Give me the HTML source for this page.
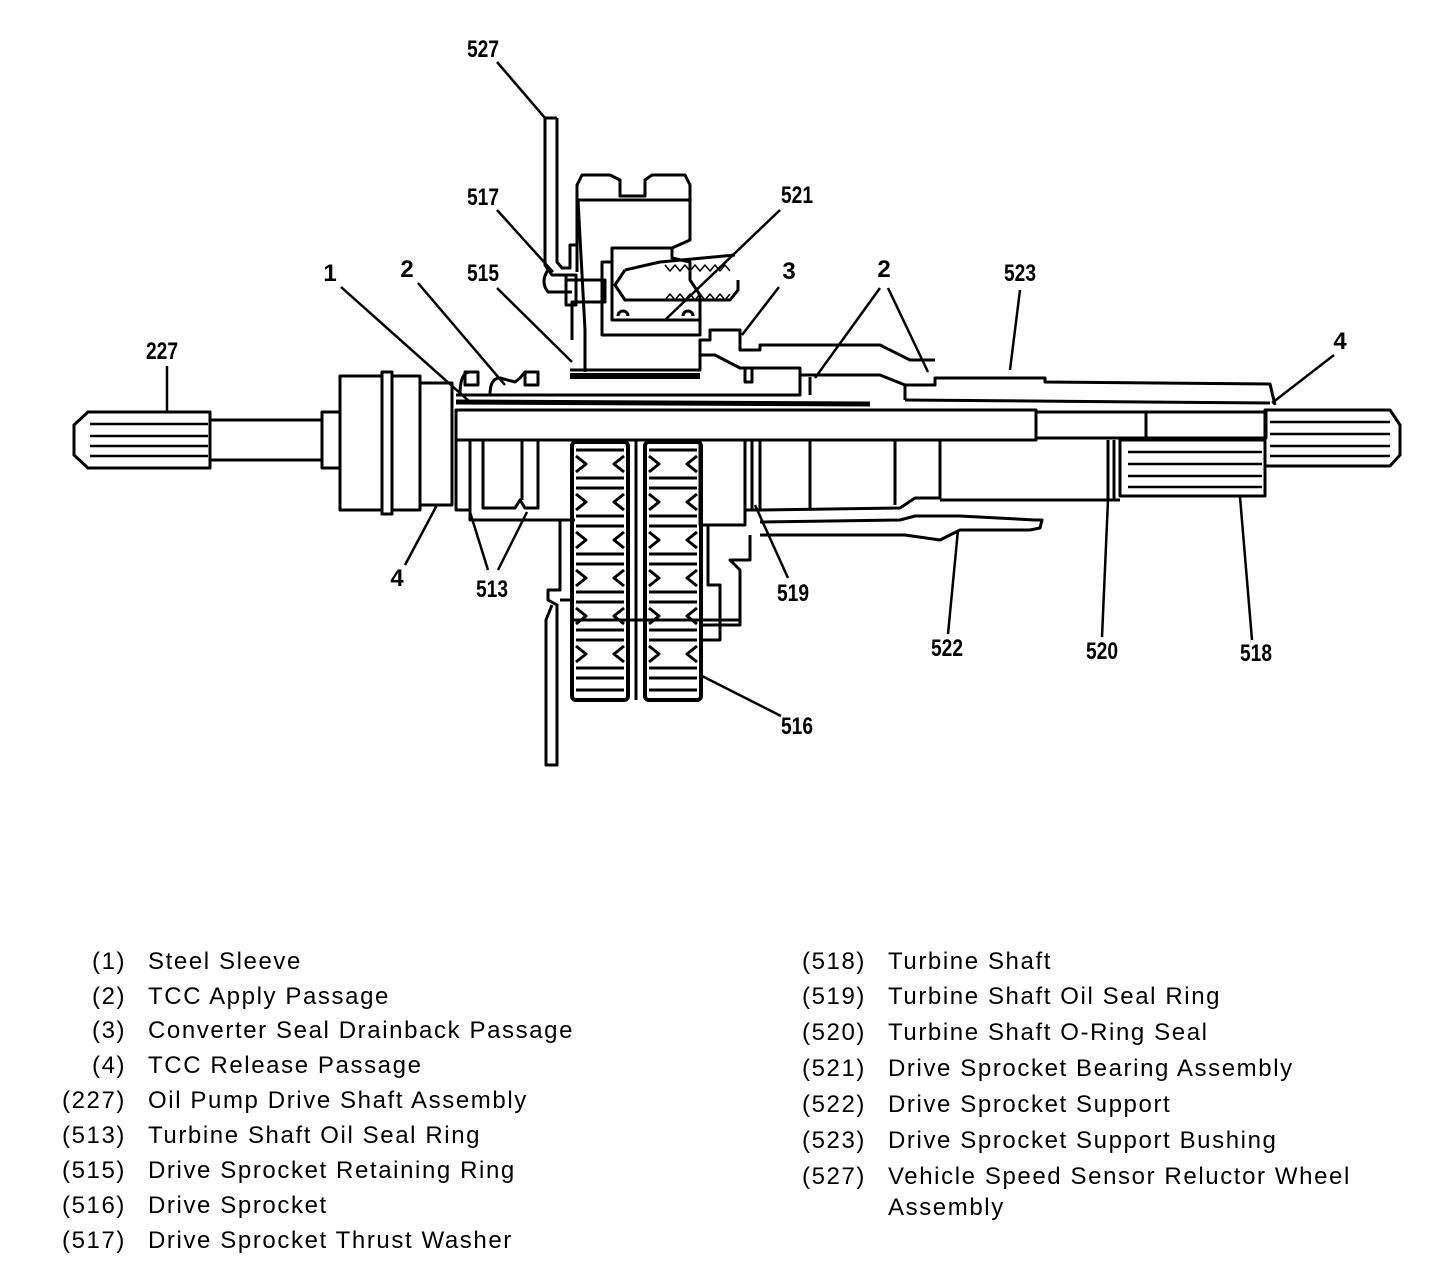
<!DOCTYPE html>
<html><head><meta charset="utf-8"><style>
html,body{margin:0;padding:0;background:#fff;}
body{width:1456px;height:1262px;overflow:hidden;position:relative;font-family:"Liberation Sans",sans-serif;}
svg{position:absolute;left:0;top:0;}
.lg{position:absolute;font-size:24px;color:#000;white-space:nowrap;line-height:1;letter-spacing:1.6px;}
</style></head><body>
<svg width="1456" height="1262" viewBox="0 0 1456 1262" fill="none" stroke="#000" stroke-width="3" stroke-linejoin="round">
<g font-family="Liberation Sans, sans-serif" font-weight="bold" font-size="24" fill="#000" stroke="none" text-anchor="middle">
<text x="483" y="57" transform="translate(483 0) scale(0.8 1) translate(-483 0)">527</text>
<text x="483" y="205" transform="translate(483 0) scale(0.8 1) translate(-483 0)">517</text>
<text x="797" y="203" transform="translate(797 0) scale(0.8 1) translate(-797 0)">521</text>
<text x="330" y="281">1</text>
<text x="407" y="277">2</text>
<text x="483" y="281" transform="translate(483 0) scale(0.8 1) translate(-483 0)">515</text>
<text x="789" y="279">3</text>
<text x="884" y="277">2</text>
<text x="1020" y="281" transform="translate(1020 0) scale(0.8 1) translate(-1020 0)">523</text>
<text x="1340" y="349">4</text>
<text x="162" y="359" transform="translate(162 0) scale(0.8 1) translate(-162 0)">227</text>
<text x="397" y="586">4</text>
<text x="492" y="597" transform="translate(492 0) scale(0.8 1) translate(-492 0)">513</text>
<text x="793" y="601" transform="translate(793 0) scale(0.8 1) translate(-793 0)">519</text>
<text x="947" y="656" transform="translate(947 0) scale(0.8 1) translate(-947 0)">522</text>
<text x="1102" y="659" transform="translate(1102 0) scale(0.8 1) translate(-1102 0)">520</text>
<text x="1256" y="661" transform="translate(1256 0) scale(0.8 1) translate(-1256 0)">518</text>
<text x="797" y="734" transform="translate(797 0) scale(0.8 1) translate(-797 0)">516</text>
</g>
<g stroke-width="2.5">
<line x1="497" y1="62" x2="545" y2="118"/>
<line x1="497" y1="210" x2="553" y2="272"/>
<line x1="780" y1="210" x2="665" y2="320"/>
<line x1="341" y1="287" x2="470" y2="402"/>
<line x1="418" y1="283" x2="505" y2="385"/>
<line x1="497" y1="288" x2="572" y2="362"/>
<line x1="779" y1="287" x2="742" y2="335"/>
<line x1="880" y1="288" x2="815" y2="378"/>
<line x1="888" y1="288" x2="928" y2="372"/>
<line x1="1020" y1="290" x2="1010" y2="370"/>
<line x1="1334" y1="355" x2="1272" y2="403"/>
<line x1="167" y1="366" x2="167" y2="412"/>
<line x1="405" y1="565" x2="437" y2="505"/>
<line x1="488" y1="570" x2="470" y2="512"/>
<line x1="498" y1="570" x2="527" y2="512"/>
<line x1="788" y1="578" x2="755" y2="505"/>
<line x1="948" y1="634" x2="958" y2="530"/>
<line x1="1102" y1="637" x2="1108" y2="500"/>
<line x1="1252" y1="640" x2="1240" y2="497"/>
<line x1="781" y1="716" x2="700" y2="675"/>
</g>
<path d="M88 412 L210 412 L210 468 L88 468 L74 455 L74 425 Z"/>
<g stroke-width="2.5"><line x1="90" y1="424" x2="208" y2="424"/><line x1="90" y1="436" x2="208" y2="436"/><line x1="90" y1="446" x2="208" y2="446"/><line x1="90" y1="456" x2="208" y2="456"/></g>
<rect x="210" y="420" width="112" height="40"/>
<rect x="322" y="412" width="18" height="56"/>
<path d="M340 376 L382 376 L382 372 L392 372 L392 376 L420 376 L420 383 L452 383 L452 505 L420 505 L420 510 L392 510 L392 514 L382 514 L382 510 L340 510 Z"/>
<line x1="382" y1="376" x2="382" y2="510"/><line x1="392" y1="376" x2="392" y2="510"/><line x1="420" y1="383" x2="420" y2="505"/>
<rect x="456" y="410" width="580" height="30"/>
<rect x="1036" y="412" width="110" height="26"/>
<rect x="1146" y="412" width="120" height="26"/>
<line x1="456" y1="402" x2="870" y2="404" stroke-width="5"/>
<path d="M456 395 L800 395 L800 375 L880 375 L905 385 L935 385 L935 378 L1045 378 L1045 382 L1270 384 L1275 405"/>
<line x1="905" y1="385" x2="905" y2="400"/><line x1="905" y1="400" x2="1270" y2="403"/>
<path d="M810 377 L810 395"/>
<rect x="465" y="372" width="13" height="13"/><rect x="525" y="372" width="13" height="13"/>
<path d="M460 395 Q460 372 470 372 M490 395 Q490 378 500 378 L515 382 L520 378 L525 372"/>
<path d="M570 370 L700 370 L700 340 L710 340 L710 330 L740 330 L740 350 L760 350 L760 345 L820 345 L880 345 L910 360 L935 360"/>
<path d="M570 376 L700 376" stroke-width="6"/>
<path d="M700 355 L715 355 L740 368 L800 368 L800 375"/>
<path d="M745 368 L745 382 L752 382 L752 368"/>
<path d="M602 262 L602 335 L700 335 L700 295 L690 280 L690 262 L672 258 L672 248 L612 248 L612 262 Z"/>
<path d="M612 262 L612 320 L700 320"/>
<path d="M625 270 L615 285 L625 300 L730 300 L738 290 L738 280"/>
<path d="M625 270 L660 262 L735 255"/>
<path d="M665 265 l5 6 l5 -6 l5 6 l5 -6 l5 6 l5 -6 l5 6 l5 -6 l5 6 l5 -6 l5 6 l5 -6 l5 6" stroke-width="1.5"/>
<path d="M665 300 l5 -6 l5 6 l5 -6 l5 6 l5 -6 l5 6 l5 -6 l5 6 l5 -6 l5 6 l5 -6 l5 6 l5 -6" stroke-width="1.5"/>
<path d="M618 316 a5 5 0 0 1 10 0 M683 316 a5 5 0 0 1 10 0"/>
<path d="M577 272 L577 185 L582 175 L610 175 L620 180 L620 196 L645 196 L645 180 L652 175 L685 175 L690 185 L690 240 L672 248"/>
<path d="M577 200 L690 200"/>
<path d="M578 200 L585 330 L585 372"/>
<path d="M545 118 L545 265 L552 275 L570 275"/>
<path d="M557 118 L557 262 L562 268 L570 268 L570 245 L577 245"/>
<path d="M545 118 L557 118"/>
<path d="M548 270 Q540 282 548 292 L572 292 M566 280 L605 280 L605 302 L572 302 L572 340"/>
<rect x="566" y="275" width="10" height="30"/>
<path d="M456 440 L456 510 L470 510 L470 520 L575 520"/>
<path d="M470 440 L470 510 M483 440 L483 508 L515 508 L520 500 L525 508 L538 508 L538 440 M522 440 L522 500"/>
<path d="M700 440 L700 525 L745 525 L745 510 L760 510 L760 440"/>
<path d="M745 440 L745 510 M752 440 L752 510"/>
<path d="M760 510 L900 508 L915 498 L940 498 L940 440 M810 440 L810 510 M895 440 L895 505"/>
<path d="M760 522 L900 520 L915 516 L960 516 L1035 520 L1042 520 L1040 528 L1030 530 L960 530 L940 540 L905 535 L760 535"/>
<path d="M940 500 L1120 500"/>
<rect x="1120" y="440" width="145" height="56"/>
<g stroke-width="2.5"><line x1="1128" y1="452" x2="1262" y2="452"/><line x1="1128" y1="464" x2="1262" y2="464"/><line x1="1128" y1="476" x2="1262" y2="476"/><line x1="1128" y1="487" x2="1262" y2="487"/></g>
<line x1="1108" y1="440" x2="1108" y2="500"/><line x1="1114" y1="440" x2="1114" y2="500"/>
<path d="M1265 410 L1390 410 L1400 425 L1400 455 L1390 466 L1265 466 Z"/>
<g stroke-width="2.5"><line x1="1270" y1="422" x2="1390" y2="422"/><line x1="1270" y1="434" x2="1390" y2="434"/><line x1="1270" y1="446" x2="1390" y2="446"/><line x1="1270" y1="456" x2="1390" y2="456"/></g>
<g id="sp">
<rect x="572" y="442" width="56" height="258" rx="4" stroke-width="4"/>
<path d="M576 450 L624 450 M576 478 L624 478 M576 488 L624 488 M576 516 L624 516 M576 526 L624 526 M576 554 L624 554 M576 564 L624 564 M576 592 L624 592 M576 602 L624 602 M576 630 L624 630 M576 640 L624 640 M576 668 L624 668 M576 678 L624 678 M576 690 L624 690" stroke-width="3"/>
<path d="M576 456 L586 464 L576 472 M624 456 L614 464 L624 472 M576 494 L586 502 L576 510 M624 494 L614 502 L624 510 M576 532 L586 540 L576 548 M624 532 L614 540 L624 548 M576 570 L586 578 L576 586 M624 570 L614 578 L624 586 M576 608 L586 616 L576 624 M624 608 L614 616 L624 624 M576 646 L586 654 L576 662 M624 646 L614 654 L624 662" stroke-width="3"/>
</g>
<use href="#sp" x="73"/>
<line x1="636" y1="440" x2="636" y2="700"/>
<path d="M560 520 L560 590 L548 590 L548 600 L557 605 L557 765 L546 765 L546 620 L552 605"/>
<path d="M560 600 L572 600"/>
<path d="M708 525 L708 585 L720 585 L720 640 L700 640 M700 625 L740 625 L740 570 L730 560 L750 560 L750 535"/>
<line x1="572" y1="620" x2="740" y2="620"/>
</svg>
<div class="lg" style="left:92px;top:950px">(1)</div><div class="lg" style="left:148px;top:950px">Steel Sleeve</div>
<div class="lg" style="left:92px;top:985px">(2)</div><div class="lg" style="left:148px;top:985px">TCC Apply Passage</div>
<div class="lg" style="left:92px;top:1019px">(3)</div><div class="lg" style="left:148px;top:1019px">Converter Seal Drainback Passage</div>
<div class="lg" style="left:92px;top:1054px">(4)</div><div class="lg" style="left:148px;top:1054px">TCC Release Passage</div>
<div class="lg" style="left:62px;top:1089px">(227)</div><div class="lg" style="left:148px;top:1089px">Oil Pump Drive Shaft Assembly</div>
<div class="lg" style="left:62px;top:1124px">(513)</div><div class="lg" style="left:148px;top:1124px">Turbine Shaft Oil Seal Ring</div>
<div class="lg" style="left:62px;top:1159px">(515)</div><div class="lg" style="left:148px;top:1159px">Drive Sprocket Retaining Ring</div>
<div class="lg" style="left:62px;top:1194px">(516)</div><div class="lg" style="left:148px;top:1194px">Drive Sprocket</div>
<div class="lg" style="left:62px;top:1229px">(517)</div><div class="lg" style="left:148px;top:1229px">Drive Sprocket Thrust Washer</div>
<div class="lg" style="left:802px;top:950px">(518)</div><div class="lg" style="left:888px;top:950px">Turbine Shaft</div>
<div class="lg" style="left:802px;top:985px">(519)</div><div class="lg" style="left:888px;top:985px">Turbine Shaft Oil Seal Ring</div>
<div class="lg" style="left:802px;top:1021px">(520)</div><div class="lg" style="left:888px;top:1021px">Turbine Shaft O-Ring Seal</div>
<div class="lg" style="left:802px;top:1057px">(521)</div><div class="lg" style="left:888px;top:1057px">Drive Sprocket Bearing Assembly</div>
<div class="lg" style="left:802px;top:1093px">(522)</div><div class="lg" style="left:888px;top:1093px">Drive Sprocket Support</div>
<div class="lg" style="left:802px;top:1129px">(523)</div><div class="lg" style="left:888px;top:1129px">Drive Sprocket Support Bushing</div>
<div class="lg" style="left:802px;top:1165px">(527)</div><div class="lg" style="left:888px;top:1165px">Vehicle Speed Sensor Reluctor Wheel</div>
<div class="lg" style="left:888px;top:1196px">Assembly</div>
</body></html>
